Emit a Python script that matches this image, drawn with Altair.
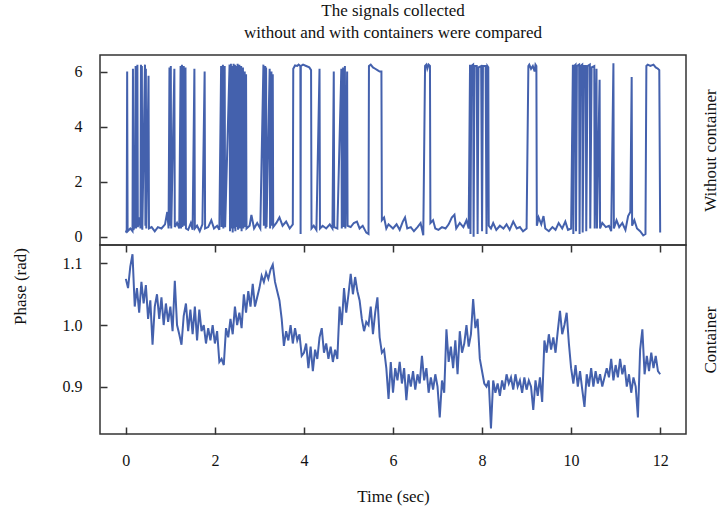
import altair as alt
import pandas as pd

# ---- Data ----
# Without container: phase (rad) vs time (sec); wraps between ~0.3 and ~6.2
top_t = [0.00, 0.02, 0.03, 0.04, 0.10, 0.15, 0.16, 0.17, 0.20, 0.22, 0.23, 0.26, 0.27, 0.30, 0.33, 0.34, 0.35,
         0.36, 0.37, 0.43, 0.44, 0.45, 0.46, 0.51, 0.52, 0.58, 0.65, 0.72, 0.80, 0.88, 0.93, 0.96, 0.98, 0.99,
         1.01, 1.02, 1.09, 1.10, 1.15, 1.20, 1.23, 1.24, 1.26, 1.27, 1.30, 1.31, 1.34, 1.35, 1.40, 1.46, 1.50,
         1.54, 1.55, 1.60, 1.66, 1.72, 1.77, 1.78, 1.85, 1.92, 1.98, 2.05, 2.10, 2.14, 2.15, 2.18, 2.19, 2.22,
         2.23, 2.33, 2.34, 2.36, 2.37, 2.39, 2.40, 2.42, 2.43, 2.45, 2.46, 2.48, 2.49, 2.51, 2.52, 2.55, 2.56,
         2.59, 2.60, 2.63, 2.64, 2.67, 2.68, 2.70, 2.71, 2.78, 2.82, 2.88, 2.95, 3.02, 3.09, 3.10, 3.13, 3.14,
         3.15, 3.16, 3.23, 3.24, 3.27, 3.28, 3.30, 3.31, 3.38, 3.45, 3.52, 3.60, 3.68, 3.75, 3.76, 3.80, 3.85,
         3.88, 3.92, 3.925, 3.93, 3.98, 4.05, 4.12, 4.16, 4.17, 4.22, 4.28, 4.35, 4.36, 4.42, 4.50, 4.58, 4.64,
         4.67, 4.68, 4.75, 4.84, 4.85, 4.88, 4.89, 4.92, 4.93, 4.97, 4.98, 5.05, 5.12, 5.19, 5.25, 5.32, 5.40,
         5.45, 5.46, 5.50, 5.55, 5.60, 5.65, 5.70, 5.74, 5.75, 5.80, 5.85, 5.90, 6.00, 6.08, 6.15, 6.22, 6.27,
         6.32, 6.40, 6.47, 6.55, 6.62, 6.68, 6.72, 6.75, 6.77, 6.80, 6.83, 6.84, 6.90, 6.95, 7.02, 7.10, 7.18,
         7.25, 7.32, 7.38, 7.42, 7.50, 7.58, 7.65, 7.70, 7.73, 7.74, 7.76, 7.80, 7.81, 7.83, 7.88, 7.90, 7.92,
         7.98, 8.00, 8.02, 8.08, 8.10, 8.12, 8.14, 8.15, 8.20, 8.25, 8.32, 8.40, 8.48, 8.55, 8.62, 8.70, 8.78,
         8.85, 8.92, 9.00, 9.04, 9.06, 9.10, 9.14, 9.18, 9.20, 9.22, 9.23, 9.27, 9.33, 9.38, 9.42, 9.50, 9.58,
         9.65, 9.72, 9.80, 9.87, 9.93, 10.00, 10.04, 10.05, 10.07, 10.10, 10.11, 10.13, 10.18, 10.19, 10.21,
         10.25, 10.26, 10.29, 10.33, 10.34, 10.37, 10.42, 10.43, 10.46, 10.52, 10.53, 10.57, 10.58, 10.64,
         10.65, 10.70, 10.78, 10.85, 10.90, 10.95, 10.96, 11.02, 11.08, 11.15, 11.22, 11.28, 11.33, 11.36,
         11.37, 11.42, 11.48, 11.55, 11.62, 11.67, 11.69, 11.72, 11.78, 11.85, 11.90, 11.95, 11.98, 12.00]
top_v = [0.15, 0.25, 6.00, 0.20, 0.30, 0.20, 6.10, 0.25, 0.40, 6.20, 0.30, 6.25, 0.35, 0.70, 0.30, 6.25, 0.30,
         6.20, 0.25, 6.25, 0.40, 6.10, 0.30, 5.85, 0.30, 0.35, 0.20, 0.35, 0.30, 0.45, 0.90, 0.30, 6.15, 0.40,
         6.20, 0.30, 6.10, 0.35, 0.50, 0.30, 6.20, 0.30, 6.25, 0.35, 6.20, 0.40, 6.15, 0.30, 0.25, 0.50, 0.25,
         6.10, 0.30, 0.40, 0.20, 0.45, 6.00, 0.30, 0.35, 0.60, 0.30, 0.40, 0.25, 6.20, 0.35, 6.25, 0.30, 6.20,
         0.35, 6.25, 0.20, 6.28, 0.30, 6.20, 0.15, 6.28, 0.30, 6.25, 0.20, 6.20, 0.35, 6.28, 0.25, 6.25, 0.30,
         6.20, 0.20, 6.15, 0.30, 6.00, 0.35, 5.90, 0.30, 0.40, 0.79, 0.30, 0.50, 0.30, 6.25, 0.40, 6.20, 0.30,
         6.15, 0.35, 6.10, 0.30, 6.00, 0.40, 5.90, 0.35, 0.50, 0.70, 0.40, 0.55, 0.30, 0.45, 6.10, 6.22, 6.20,
         6.25, 6.20, 0.10, 6.20, 6.25, 6.20, 6.15, 6.05, 0.30, 0.40, 0.25, 6.10, 0.30, 0.40, 0.30, 0.45, 0.30,
         6.00, 0.35, 0.30, 6.10, 0.30, 6.15, 0.35, 6.20, 0.30, 6.00, 0.40, 0.35, 0.50, 0.55, 0.30, 0.40, 0.15,
         0.10, 6.20, 6.25, 6.15, 6.10, 6.05, 6.00, 6.00, 0.60, 0.70, 0.30, 0.45, 0.30, 0.45, 0.25, 0.55, 0.70,
         0.30, 0.35, 0.20, 0.35, 0.50, 0.05, 6.20, 6.25, 6.10, 6.25, 6.20, 0.50, 0.60, 0.30, 0.25, 0.35, 0.30,
         0.45, 0.70, 0.80, 0.30, 0.50, 0.35, 0.60, 0.30, 6.25, 0.10, 6.20, 6.25, 0.00, 6.20, 6.20, 0.10, 6.15,
         6.20, 0.20, 6.20, 6.20, 0.10, 6.20, 6.15, 0.40, 0.30, 0.50, 0.25, 0.40, 0.30, 0.45, 0.25, 0.55, 0.30,
         0.35, 0.20, 0.30, 6.20, 6.25, 6.10, 6.20, 6.00, 6.25, 6.20, 0.40, 0.70, 0.45, 0.75, 0.30, 0.20, 0.35,
         0.25, 0.50, 0.30, 0.55, 0.25, 0.30, 6.25, 0.10, 6.20, 6.25, 0.20, 6.20, 6.25, 0.10, 6.20,
         6.25, 0.15, 6.20, 6.20, 0.20, 6.20, 6.25, 0.30, 6.15, 6.20, 0.30, 6.10, 0.30, 5.70,
         0.30, 0.50, 0.35, 0.40, 0.20, 6.30, 0.30, 0.60, 0.35, 0.50, 0.25, 0.75, 0.90, 5.80,
         0.40, 0.60, 0.30, 0.20, 0.05, 0.10, 6.20, 6.25, 6.20, 6.25, 6.15, 6.10, 6.05, 0.15]

# Container: phase (rad), one value every 0.05 s from 0 to 12 s
bottom_v = [
    1.075, 1.060, 1.095, 1.115, 1.030, 1.060, 1.020, 1.070, 1.035, 1.065,
    1.010, 1.040, 0.968, 1.030, 1.050, 1.010, 1.045, 1.000, 1.035, 1.005,
    1.030, 0.990, 1.072, 1.000, 0.985, 0.968, 1.015, 1.035, 0.990, 1.025,
    0.985, 1.030, 0.975, 1.025, 0.990, 1.000, 0.970, 0.995, 0.975, 1.000,
    0.970, 0.990, 0.940, 0.945, 0.935, 0.995, 0.980, 1.010, 0.985, 1.030,
    1.000, 1.020, 0.995, 1.050, 1.020, 1.055, 1.030, 1.067, 1.030, 1.045,
    1.060, 1.080, 1.070, 1.085, 1.075, 1.090, 1.098, 1.070, 1.055, 1.040,
    1.010, 0.966, 0.990, 0.975, 1.000, 0.970, 0.995, 0.975, 0.985, 0.950,
    0.955, 0.970, 0.930, 0.965, 0.925, 0.960, 0.945, 0.980, 0.995, 0.955,
    0.970, 0.945, 0.965, 0.940, 0.960, 0.945, 1.030, 1.000, 1.060, 1.020,
    1.050, 1.083, 1.050, 1.078, 1.055, 1.040, 1.010, 0.990, 1.005, 1.000,
    1.030, 0.985, 1.020, 1.045, 0.980, 0.955, 0.960, 0.930, 0.880, 0.940,
    0.890, 0.930, 0.910, 0.940, 0.905, 0.930, 0.878, 0.920, 0.900, 0.925,
    0.895, 0.920, 0.905, 0.950, 0.910, 0.930, 0.890, 0.915, 0.895, 0.920,
    0.900, 0.850, 0.910, 0.890, 0.993, 0.940, 0.965, 0.930, 0.975, 0.920,
    0.990, 0.955, 0.970, 1.000, 0.965, 0.985, 1.042, 0.995, 1.010, 0.945,
    0.925, 0.905, 0.900, 0.910, 0.832, 0.910, 0.890, 0.905, 0.885, 0.910,
    0.895, 0.920, 0.905, 0.915, 0.895, 0.920, 0.900, 0.910, 0.890, 0.915,
    0.895, 0.910, 0.900, 0.862, 0.910, 0.885, 0.915, 0.875, 0.975, 0.955,
    0.985, 0.960, 0.980, 0.955, 0.990, 1.023, 0.985, 1.000, 1.020, 0.970,
    0.930, 0.905, 0.935, 0.900, 0.925, 0.895, 0.867, 0.920, 0.900, 0.930,
    0.900, 0.925, 0.905, 0.920, 0.900, 0.915, 0.930, 0.915, 0.945, 0.910,
    0.935, 0.915, 0.945, 0.920, 0.935, 0.900, 0.920, 0.890, 0.915, 0.900,
    0.850, 0.960, 0.993, 0.920, 0.950, 0.925, 0.955, 0.930, 0.950, 0.925,
    0.920]
bottom_t = [round(i * 0.05, 2) for i in range(len(bottom_v))]

x_ticks = [0, 2, 4, 6, 8, 10, 12]
top_y_ticks = [0, 2, 4, 6]
bottom_y_ticks = [0.9, 1.0, 1.1]

FONT = "Liberation Serif"
COLOR = "#4461ad"
XDOM = [-0.58, 12.58]
W, H1, H2 = 586, 190, 189
TICK = 7

top_df = pd.DataFrame({"t": top_t, "v": top_v})
bot_df = pd.DataFrame({"t": bottom_t, "v": bottom_v})

xs = alt.Scale(domain=XDOM, nice=False, zero=False)
ys_top = alt.Scale(domain=[-0.3, 6.6], nice=False, zero=False)
ys_bot = alt.Scale(domain=[0.823, 1.130], nice=False, zero=False)

# ---- top panel ----
top_line = alt.Chart(top_df).mark_line(color=COLOR, strokeWidth=2).encode(
    x=alt.X("t:Q", scale=xs, axis=None),
    y=alt.Y("v:Q", scale=ys_top, axis=alt.Axis(
        values=top_y_ticks, orient="left", offset=-TICK, tickSize=TICK, domain=False, grid=False,
        labelPadding=18, title="Phase (rad)", titleX=-87, titleY=231, titleAngle=270,
        titleAlign="center", titleBaseline="middle")),
)
top_right = alt.Chart(top_df).mark_line(opacity=0).encode(
    x=alt.X("t:Q", scale=xs, axis=None),
    y=alt.Y("v:Q", scale=ys_top, axis=alt.Axis(
        orient="right", labels=False, ticks=False, domain=False, grid=False,
        title="Without container", titleAngle=270, titlePadding=33)),
)
top = alt.layer(top_line, top_right).properties(width=W, height=H1)

# ---- bottom panel ----
bot_line = alt.Chart(bot_df).mark_line(color=COLOR, strokeWidth=2).encode(
    x=alt.X("t:Q", scale=xs, axis=alt.Axis(
        values=x_ticks, orient="bottom", offset=-TICK, tickSize=TICK, domain=False, grid=False,
        labelPadding=18, title="Time (sec)", titlePadding=20)),
    y=alt.Y("v:Q", scale=ys_bot, axis=alt.Axis(
        values=bottom_y_ticks, format=".1f", orient="left", offset=-TICK, tickSize=TICK,
        domain=False, grid=False, labelPadding=18, title=None)),
)
bot_extra = alt.Chart(bot_df).mark_line(opacity=0).encode(
    x=alt.X("t:Q", scale=xs, axis=alt.Axis(
        values=x_ticks, orient="top", offset=-TICK, tickSize=TICK, domain=False, grid=False,
        labels=False, title=None)),
    y=alt.Y("v:Q", scale=ys_bot, axis=alt.Axis(
        orient="right", labels=False, ticks=False, domain=False, grid=False,
        title="Container", titleAngle=270, titlePadding=33)),
)
bottom = alt.layer(bot_line, bot_extra).properties(width=W, height=H2)

chart = alt.vconcat(top, bottom, spacing=0, bounds="flush").properties(
    title=alt.Title(["The signals collected", "without and with containers were compared"],
                    anchor="middle", frame="group", fontSize=17, font=FONT, fontWeight="normal",
                    color="#111", lineHeight=22, offset=12),
    padding={"left": 10, "top": 2, "right": 0, "bottom": 5},
).configure_view(
    stroke="#333", strokeWidth=1.5
).configure_axis(
    labelFont=FONT, titleFont=FONT, labelFontSize=16, titleFontSize=17,
    labelColor="#111", titleColor="#111", titleFontWeight="normal",
    tickColor="#333", tickWidth=1.5,
)

chart.save("out.html", embed_options={"renderer": "svg", "actions": False})
